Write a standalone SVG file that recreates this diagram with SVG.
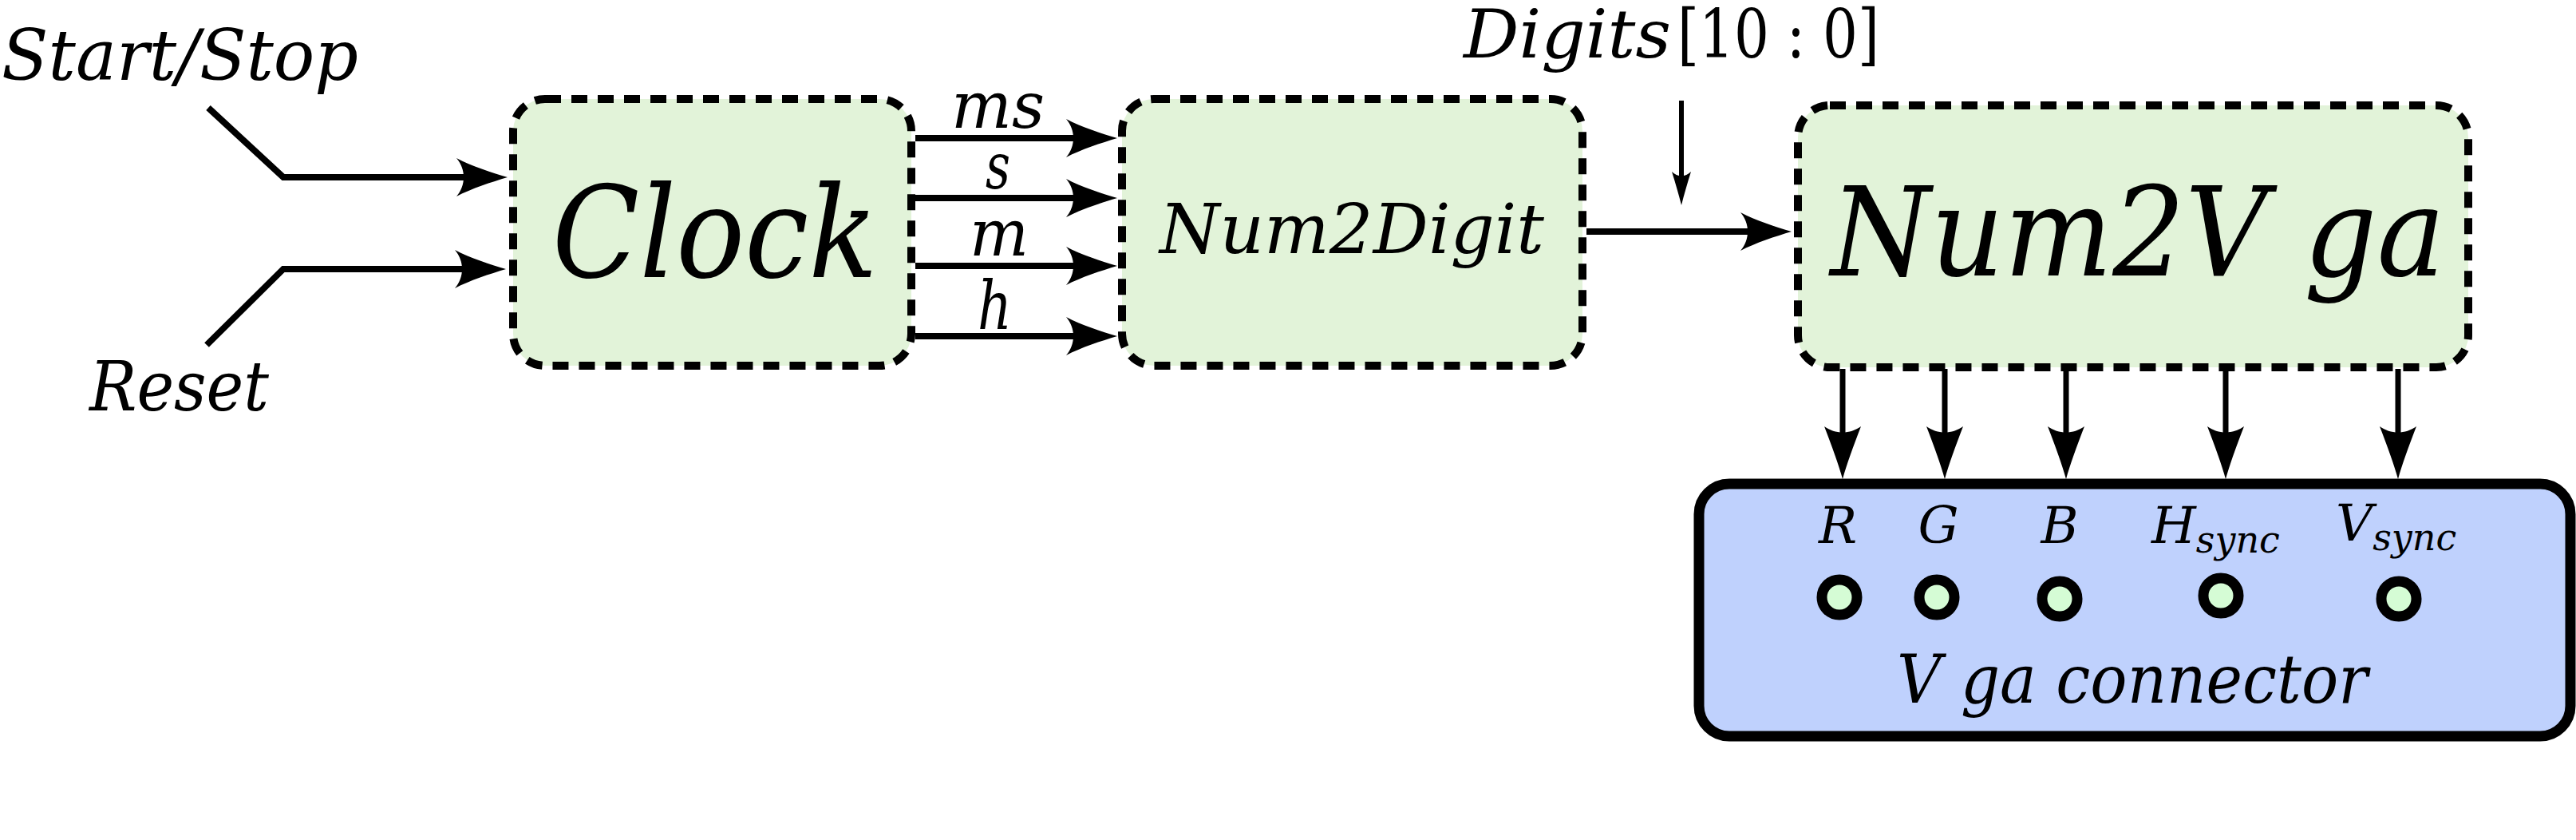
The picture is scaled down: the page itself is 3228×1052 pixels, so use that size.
<svg xmlns="http://www.w3.org/2000/svg" width="3228" height="1052" viewBox="0 0 3228 1052">
<style>
.blk{fill:#e2f3d9;stroke:#000;stroke-width:10;stroke-dasharray:20 13}
.conn{fill:#bfd1fd;stroke:#000;stroke-width:13}
.pin{fill:#d5fcd5;stroke:#000;stroke-width:13}
.w{fill:none;stroke:#000;stroke-linejoin:miter}
.t{font-family:'DejaVu Serif','Liberation Serif',serif;font-style:italic;fill:#000}
.u{font-style:normal}
</style>
<defs>
<marker id="big" markerUnits="userSpaceOnUse" viewBox="-40 -40 100 80" markerWidth="100" markerHeight="80" refX="0" refY="0" orient="auto" overflow="visible">
<path d="M40,0 C20,-6 -5,-14 -24,-24 C-12,-10 -12,10 -24,24 C-5,14 20,6 40,0 Z" fill="#000"/>
</marker>
<marker id="mid" markerUnits="userSpaceOnUse" viewBox="-40 -40 100 80" markerWidth="100" markerHeight="80" refX="0" refY="0" orient="auto" overflow="visible">
<path d="M44,0 C26,-5 4,-13 -22,-23 C-12,-9 -12,9 -22,23 C4,13 26,5 44,0 Z" fill="#000"/>
</marker>
<marker id="sml" markerUnits="userSpaceOnUse" viewBox="-30 -20 70 40" markerWidth="70" markerHeight="40" refX="0" refY="0" orient="auto" overflow="visible">
<path d="M26,0 C14,-3 0,-7 -16,-12 C-9,-5 -9,5 -16,12 C0,7 14,3 26,0 Z" fill="#000"/>
</marker>
</defs>

<g id="connectors">
<path class="w" stroke-width="8" d="M261,135 L355,222 L596,222" marker-end="url(#big)"/>
<path class="w" stroke-width="8" d="M259,432 L355,337 L594,337" marker-end="url(#big)"/>
<path class="w" stroke-width="8" d="M1147,173 H1360" marker-end="url(#big)"/>
<path class="w" stroke-width="8" d="M1147,248 H1360" marker-end="url(#big)"/>
<path class="w" stroke-width="8" d="M1147,333 H1360" marker-end="url(#big)"/>
<path class="w" stroke-width="8" d="M1147,421 H1360" marker-end="url(#big)"/>
<path class="w" stroke-width="8" d="M1988,290 H2205" marker-end="url(#big)"/>
<path class="w" stroke-width="6" d="M2107,126 V231" marker-end="url(#sml)"/>
<path class="w" stroke-width="7" d="M2309,462 V556" marker-end="url(#mid)"/>
<path class="w" stroke-width="7" d="M2437,462 V556" marker-end="url(#mid)"/>
<path class="w" stroke-width="7" d="M2589,462 V556" marker-end="url(#mid)"/>
<path class="w" stroke-width="7" d="M2789,462 V556" marker-end="url(#mid)"/>
<path class="w" stroke-width="7" d="M3005,462 V556" marker-end="url(#mid)"/>
<text class="t" x="2" y="100" font-size="88" textLength="447" lengthAdjust="spacingAndGlyphs">Start/Stop</text>
<text class="t" x="112" y="514" font-size="86" textLength="225" lengthAdjust="spacingAndGlyphs">Reset</text>
<text class="t" x="1192" y="160" font-size="80" textLength="117" lengthAdjust="spacingAndGlyphs">ms</text>
<text class="t" x="1235" y="236" font-size="80" textLength="31" lengthAdjust="spacingAndGlyphs">s</text>
<text class="t" x="1215" y="320" font-size="80" textLength="74" lengthAdjust="spacingAndGlyphs">m</text>
<text class="t" x="1225" y="412" font-size="84" textLength="43" lengthAdjust="spacingAndGlyphs">h</text>
<text class="t" x="1834" y="72" font-size="84"><tspan textLength="260" lengthAdjust="spacingAndGlyphs">Digits</tspan><tspan class="u" x="2102" textLength="253" lengthAdjust="spacingAndGlyphs">[10 : 0]</tspan></text>
</g>

<g id="clock">
<rect class="blk" x="643" y="124" width="499" height="334" rx="40"/>
<text class="t" x="692" y="347" font-size="160" textLength="408" lengthAdjust="spacingAndGlyphs">Clock</text>
</g>

<g id="num2digit">
<rect class="blk" x="1406" y="124" width="577" height="334" rx="40"/>
<text class="t" x="1453" y="317" font-size="86" textLength="482" lengthAdjust="spacingAndGlyphs">Num2Digit</text>
</g>

<g id="num2vga">
<rect class="blk" x="2253" y="132" width="840" height="328" rx="40"/>
<text class="t" x="2294" y="345" font-size="156" textLength="770" lengthAdjust="spacingAndGlyphs">Num2V ga</text>
</g>

<g id="vga-connector">
<rect class="conn" x="2129" y="606" width="1092" height="316" rx="38"/>
<text class="t" x="2303" y="680" font-size="64" text-anchor="middle">R</text>
<text class="t" x="2429" y="680" font-size="64" text-anchor="middle">G</text>
<text class="t" x="2581" y="680" font-size="64" text-anchor="middle">B</text>
<text class="t" x="2696" y="680" font-size="64">H<tspan font-size="46" dy="12">sync</tspan></text>
<text class="t" x="2927" y="677" font-size="64">V<tspan font-size="46" dy="12">sync</tspan></text>
<circle class="pin" cx="2305" cy="748" r="22"/>
<circle class="pin" cx="2427" cy="748" r="22"/>
<circle class="pin" cx="2581" cy="750" r="22"/>
<circle class="pin" cx="2783" cy="746" r="22"/>
<circle class="pin" cx="3006" cy="750" r="22"/>
<text class="t" x="2377" y="880" font-size="84" textLength="590" lengthAdjust="spacingAndGlyphs">V ga connector</text>
</g>
</svg>
